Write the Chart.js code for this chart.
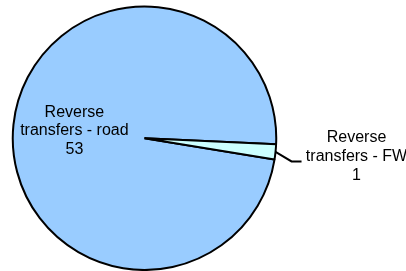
<!DOCTYPE html>
<html>
<head>
<meta charset="utf-8">
<script src="https://cdn.jsdelivr.net/npm/chart.js@4/dist/chart.umd.min.js"></script>
<style>
  html, body { margin: 0; padding: 0; background: #fff; }
  canvas { display: block; }
</style>
</head>
<body>
<canvas id="pie" width="406" height="271"></canvas>
<script>
  /* ============== DATA ============== */
  const categories = ["Reverse transfers - road", "Reverse transfers - FW"];
  const values = [53, 1];
  const sliceColors = ["#99CCFF", "#CCFFFF"];

  const FONT = "16px 'Liberation Sans', Arial, sans-serif";
  const LINE_H = 18.8;

  // "Reverse transfers - road" -> ["Reverse", "transfers - road", "53"]
  function labelLines(i) {
    const name = categories[i];
    const cut = name.indexOf(" ");
    return [name.slice(0, cut), name.slice(cut + 1), String(values[i])];
  }

  function drawLines(ctx, lines, cx, cy) {
    const top = cy - ((lines.length - 1) * LINE_H) / 2;
    lines.forEach((t, k) => ctx.fillText(t, cx, top + k * LINE_H));
  }

  /* ============== LABELS (excel-style) ============== */
  const sliceLabels = {
    id: "sliceLabels",
    afterDatasetsDraw(chart) {
      const ctx = chart.ctx;
      const meta = chart.getDatasetMeta(0);
      const total = values.reduce((a, b) => a + b, 0);
      ctx.save();
      ctx.font = FONT;
      ctx.fillStyle = "#000";
      ctx.textAlign = "center";
      ctx.textBaseline = "middle";

      meta.data.forEach((arc, i) => {
        const { x, y, startAngle, endAngle, outerRadius } = arc.getProps(
          ["x", "y", "startAngle", "endAngle", "outerRadius"],
          true
        );
        const mid = (startAngle + endAngle) / 2;
        const cos = Math.cos(mid);
        const sin = Math.sin(mid);

        if (values[i] / total > 0.1) {
          // big slice: label inside
          const r = outerRadius * 0.535;
          drawLines(ctx, labelLines(i), x + cos * r, y + sin * r);
        } else {
          // small slice: label outside with leader line
          const p0 = { x: x + cos * outerRadius, y: y + sin * outerRadius };
          const p1 = { x: p0.x + 16, y: p0.y + 9.5 };
          const p2 = { x: p1.x + 10, y: p1.y };
          ctx.beginPath();
          ctx.moveTo(p0.x, p0.y);
          ctx.lineTo(p1.x, p1.y);
          ctx.lineTo(p2.x, p2.y);
          ctx.lineWidth = 2;
          ctx.strokeStyle = "#000";
          ctx.stroke();
          drawLines(ctx, labelLines(i), p2.x + 55, p2.y - 5);
        }
      });
      ctx.restore();
    },
  };

  new Chart(document.getElementById("pie"), {
    type: "pie",
    data: {
      labels: categories,
      datasets: [
        {
          data: values,
          backgroundColor: sliceColors,
          borderColor: "#000",
          borderWidth: 2,
        },
      ],
    },
    options: {
      responsive: false,
      animation: false,
      rotation: 99.3,
      layout: { padding: { left: 11, right: 128, top: 5.5, bottom: -2 } },
      plugins: {
        legend: { display: false },
        tooltip: { enabled: false },
      },
    },
    plugins: [sliceLabels],
  });
</script>
</body>
</html>
